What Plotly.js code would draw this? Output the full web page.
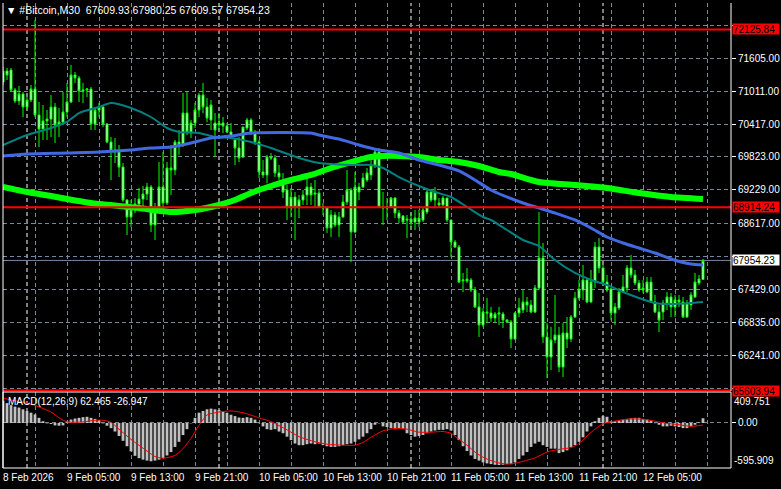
<!DOCTYPE html>
<html><head><meta charset="utf-8">
<script src="https://cdn.plot.ly/plotly-3.0.1.min.js"></script>
<style>html,body{margin:0;padding:0;background:#000;}#chart{width:781px;height:489px;}</style>
</head><body><div id="chart"></div>
<script>
// ---- OHLC (M30 bars, 8 Feb 2026 21:00 .. 12 Feb 2026 12:30) ----
const open = [71177,71376,71394,71033,70834,70960,70726,70852,71051,70581,
70328,70473,70509,70726,70401,70455,70635,70816,71304,71249,
71015,71033,71051,70419,70671,70726,70419,70094,69949,69913,
69642,69046,68739,68865,68974,69064,69154,69281,68595,68920,
69281,68992,69624,69588,70094,70039,70617,70274,70437,70671,
70942,70726,70491,70437,70401,70437,70382,70274,70130,69985,
69823,70346,70491,70256,70094,69552,69498,69823,69805,69534,
69371,69227,68920,69100,68920,69046,69136,69281,69173,69173,
68920,68902,68540,68775,68595,68739,69010,69227,68468,69281,
69281,69407,69498,69678,69913,68920,68902,68920,69082,68811,
68757,68703,68649,68649,68649,68685,68829,69191,69046,68992,
68956,69082,68685,68288,68197,67583,67583,67601,67421,67114,
66789,67023,67005,66915,66987,66987,66879,66843,66536,67005,
67059,67204,67150,67023,67457,67999,66572,66211,66518,66608,
66030,66644,66536,66933,67276,67421,67601,67204,67565,68197,
67818,67565,67439,67005,67096,67384,67457,67818,67692,67547,
67421,67384,67565,67204,67023,67023,67186,67294,67114,67240,
67204,66933,67150,67294,67547,67609.93];
const high = [71448,71430,71430,71069,71105,70997,70906,71123,72297,70816,
70762,70671,70942,70798,70708,70997,71159,71484,71358,71285,
71159,71069,71087,70726,70798,70762,70437,70184,70166,70039,
69714,69064,69046,69082,69263,69299,69353,69317,68992,69732,
69913,69732,70039,70130,70310,70978,70997,70491,70798,70978,
71159,70888,70852,70617,70617,70545,70437,70437,70166,70184,
70364,70527,70527,70310,70130,69768,69859,69895,69859,69678,
69534,69317,69263,69191,69136,69227,69443,69353,69407,69227,
68992,68902,68865,68829,68829,69136,69588,69263,69552,69353,
69534,69624,69859,69949,69985,69191,69082,69100,69100,68865,
68775,68775,68811,68865,68865,68920,69263,69227,69281,69082,
69118,69082,68685,68324,68233,67728,67818,67637,67475,67366,
67096,67276,67114,67023,67114,67023,66897,66879,67023,67276,
67421,67294,67240,67511,68829,68270,66825,66753,67330,66753,
66825,66933,66969,67384,67601,67872,67637,67782,68288,68360,
67872,67692,67457,67186,67457,67692,67872,68053,67782,67601,
67601,67655,67655,67330,67150,67240,67384,67366,67330,67330,
67294,67240,67384,67728,67692,67980.25];
const low = [71123,71213,70997,70798,70762,70545,70671,70816,70545,70003,
70130,70130,70184,70075,70184,70401,70545,70798,71159,70816,
70798,70906,70310,70310,70545,70364,70075,69407,69714,69461,
69010,68414,68558,68811,68865,68865,69046,68468,68324,68865,
68902,68956,69136,69498,69859,70003,70220,70166,70346,70545,
70617,70455,70310,69823,70310,70256,70256,70166,69678,69732,
69805,70310,70220,70039,69443,69443,69353,69768,69461,69407,
69082,68685,68739,68324,68721,68956,68956,68956,68920,68902,
68775,68450,68378,68558,68378,68721,68956,67926,68450,69046,
69263,69371,69407,69624,68902,68595,68685,68902,68721,68631,
68613,68360,68558,68504,68558,68649,68793,69010,68920,68920,
68938,68649,68017,68179,67547,67384,67547,67384,67096,66572,
66753,66825,66843,66825,66789,66735,66825,66373,66518,66933,
67005,67023,67005,67005,67421,66463,65832,65976,66463,65940,
65850,66373,66481,66915,67240,67240,67186,67186,67457,67728,
67547,67384,66879,66789,67059,67366,67384,67637,67511,67384,
67366,67366,67186,67005,66662,66879,67059,66933,66933,67114,
66915,66915,67059,67276,67511,67609.57];
const close = [71376,71304,71033,70834,70960,70726,70852,71051,70581,70328,
70473,70509,70726,70401,70455,70635,70816,71304,71249,71015,
71033,71051,70419,70671,70726,70419,70094,69949,69913,69642,
69046,68739,68865,68974,69064,69154,69281,68595,68920,69281,
68992,69624,69588,70094,70039,70617,70274,70437,70671,70942,
70726,70527,70762,70310,70437,70382,70274,70184,69985,69805,
70364,70491,70256,70094,69552,69498,69823,69805,69534,69461,
69191,68920,69100,68920,69046,69136,69281,69136,69154,68920,
68902,68540,68775,68595,68739,69010,69227,68468,69281,69191,
69443,69534,69678,69913,68920,68902,68920,69082,68811,68721,
68649,68685,68703,68721,68721,68865,69191,69046,69191,68956,
69082,68685,68288,68197,67565,67601,67619,67421,67114,66789,
67023,67005,66915,66987,67005,66879,66843,66536,67005,67096,
67204,67150,67023,67457,67999,66572,66211,66518,66608,66030,
66644,66536,66933,67276,67439,67601,67204,67565,68197,67818,
67565,67421,67005,67114,67384,67475,67818,67692,67547,67421,
67457,67565,67204,67023,66879,67186,67294,67114,67240,67204,
66933,67186,67330,67565,67619,67954.23];

// ---- Moving averages (bar index, value) ----
const tealBars = [0,6,12,16,19,24,27,32,37,41,44,49,53,57,62,67,74,79,87,92,95,99,104,108,112,116,120,122,126,130,134,138,143,147,151,155,159,163,167,172,175];
const tealVals = [70039,70220,70346,70455,70617,70726,70798,70708,70545,70346,70274,70256,70184,70166,70094,69985,69805,69714,69678,69678,69624,69461,69299,69191,69100,68920,68739,68685,68504,68324,68215,67962,67728,67601,67511,67385,67276,67186,67168,67186,67204];
const blueBars = [0,6,16,24,32,37,42,47,52,57,62,77,79,84,89,94,99,104,109,114,118,122,130,134,138,143,147,151,155,159,163,167,172,175];
const blueVals = [69841,69877,69895,69913,69949,69985,70003,70075,70166,70202,70256,70256,70220,70148,70039,69949,69895,69768,69678,69570,69407,69227,68992,68902,68811,68685,68540,68378,68270,68179,68089,67981,67890,67872];
const greenBars = [0,6,12,16,22,29,34,42,48,54,58,62,67,72,77,82,87,92,95,99,104,109,114,119,124,127,134,143,151,159,167,175];
const greenVals = [69281,69190,69118,69064,68992,68938,68902,68829,68865,68956,69046,69173,69299,69407,69498,69624,69732,69823,69841,69841,69823,69768,69732,69660,69552,69516,69371,69317,69263,69172,69100,69064];

// ---- MACD(12,26,9) ----
const macdHist = [294,263,236,217,204,181,159,136,113,68,
23,-5,-14,-32,-36,-32,23,45,59,68,
77,82,68,54,36,-5,-36,-68,-113,-172,
-236,-308,-376,-435,-466,-485,-498,-507,-498,-485,
-462,-430,-385,-317,-249,-159,-82,-5,68,136,
159,181,190,181,172,154,136,109,91,72,
68,77,68,45,-3,-45,-82,-91,-82,-113,
-136,-181,-227,-272,-294,-294,-281,-272,-281,-272,
-294,-308,-317,-317,-308,-294,-281,-272,-249,-217,
-181,-136,-82,-23,-5,-45,-54,-68,-82,-68,
-82,-136,-159,-181,-172,-159,-136,-113,-100,-91,
-91,-82,-100,-159,-227,-308,-371,-430,-476,-498,
-521,-535,-544,-553,-557,-553,-544,-544,-521,-476,
-430,-385,-317,-272,-249,-294,-317,-340,-340,-399,
-385,-362,-317,-294,-249,-190,-113,-45,23,68,
91,82,23,23,36,45,54,63,68,68,
54,45,36,-3,-23,-45,-45,-36,-45,-54,
-68,-68,-45,-23,5,62.465];
const signalBars = [0,2,6,9,12,14,16,20,23,25,27,29,32,36,38,40,43,45,47,49,51,54,57,60,64,67,71,74,78,81,85,88,90,92,95,98,101,104,107,110,112,114,116,118,120,122,124,126,128,130,133,136,139,142,144,146,148,150,152,154,157,160,163,166,169,172,175];
const signalVals = [331,304,263,213,145,70,14,14,36,36,9,-82,-217,-371,-444,-467,-430,-340,-204,-30,105,145,159,136,68,18,-91,-181,-249,-281,-294,-294,-258,-190,-104,-72,-82,-122,-122,-113,-136,-217,-294,-385,-453,-498,-530,-544,-535,-507,-462,-385,-349,-326,-272,-172,-82,-9,14,36,54,50,23,-5,-23,-45,-26.947];
const macdMax = 409.751, macdMin = -595.909;

// ---- Levels, ticks, labels ----
const levelPrices = [72125.84, 68914.24, 65603.94];
const lastPrice = 67954.23;
const priceTicks = [72199, 71605, 71011, 70417, 69823, 69229, 68617, 68023, 67429, 66835, 66241, 65647];
const hiddenTicks = [72199, 68023, 65647]; // grid levels whose labels sit under the price boxes
const timeLabels = ['8 Feb 2026','9 Feb 05:00','9 Feb 13:00','9 Feb 21:00','10 Feb 05:00','10 Feb 13:00','10 Feb 21:00','11 Feb 05:00','11 Feb 13:00','11 Feb 21:00','12 Feb 05:00'];
const timeLabelBars = [0,16,32,48,64,80,96,112,128,144,160];
const daySepBars = [6,54,102,150];

const bars = open.map((_, i) => i);
const FONT = 'Liberation Sans, Arial, sans-serif';
const mainDom = [0.1656, 1];
const macdDom = [0, 0.1634];
const gridCol = '#778899';
const dash = '4px,3px';

const traces = [
  {type:'scatter', mode:'lines', x:greenBars, y:greenVals, line:{color:'#00ff00', width:6, shape:'spline', smoothing:0.6}, hoverinfo:'skip'},
  {type:'scatter', mode:'lines', x:tealBars, y:tealVals, line:{color:'#008080', width:2, shape:'spline', smoothing:0.6}, hoverinfo:'skip'},
  {type:'scatter', mode:'lines', x:blueBars, y:blueVals, line:{color:'#4169e1', width:3, shape:'spline', smoothing:0.6}, hoverinfo:'skip'},
  {type:'candlestick', x:bars, open:open, high:high, low:low, close:close,
   increasing:{line:{color:'#00ff00', width:1}, fillcolor:'#ffffff'},
   decreasing:{line:{color:'#00ff00', width:1}, fillcolor:'#ffffff'},
   whiskerwidth:0, hoverinfo:'skip'},
  {type:'bar', x:bars, y:macdHist, xaxis:'x', yaxis:'y2', marker:{color:'#c0c0c0', line:{width:0}}, hoverinfo:'skip'},
  {type:'scatter', mode:'lines', x:signalBars, y:signalVals, xaxis:'x', yaxis:'y2', line:{color:'#ff0000', width:1, shape:'spline', smoothing:0.6}, hoverinfo:'skip'}
];

const shapes = [];
daySepBars.forEach(b => {
  shapes.push({type:'line', xref:'x', yref:'paper', x0:b, x1:b, y0:mainDom[0], y1:mainDom[1], line:{color:'#ffffff', width:1, dash:dash}, layer:'below'});
  shapes.push({type:'line', xref:'x', yref:'paper', x0:b, x1:b, y0:macdDom[0], y1:macdDom[1], line:{color:'#ffffff', width:1, dash:dash}, layer:'below'});
});
shapes.push({type:'line', xref:'paper', yref:'y', x0:0, x1:1, y0:lastPrice, y1:lastPrice, line:{color:gridCol, width:1}, layer:'below'});
levelPrices.forEach(p => shapes.push({type:'line', xref:'paper', yref:'y', x0:0, x1:1, y0:p, y1:p, line:{color:'#ff0000', width:2}, layer:'above'}));
// frames
shapes.push({type:'line', xref:'paper', yref:'paper', x0:0, x1:0, y0:0, y1:1, line:{color:'#ffffff', width:1}, layer:'above'});
shapes.push({type:'line', xref:'paper', yref:'paper', x0:1, x1:1, y0:mainDom[0], y1:1, line:{color:'#ffffff', width:1}, layer:'above'});
shapes.push({type:'rect', xref:'paper', yref:'paper', x0:0, x1:1, y0:macdDom[0], y1:macdDom[1], line:{color:'#ffffff', width:1}, layer:'above'});

const annotations = [];
levelPrices.forEach(p => annotations.push({xref:'paper', x:1, xanchor:'left', xshift:1, yref:'y', y:p, yanchor:'middle', text:p.toFixed(2), showarrow:false, bgcolor:'#ff0000', font:{family:FONT, size:10, color:'#000000'}, borderpad:0, width:46, height:10, align:'left'}));
annotations.push({xref:'paper', x:1, xanchor:'left', xshift:1, yref:'y', y:lastPrice, yanchor:'middle', text:lastPrice.toFixed(2), showarrow:false, bgcolor:'#ffffff', font:{family:FONT, size:10, color:'#000000'}, borderpad:0, width:46, height:10, align:'left'});
annotations.push({xref:'paper', x:1, xanchor:'left', xshift:1, yref:'y2', y:macdMax, yanchor:'top', yshift:-2, text:macdMax.toFixed(3), showarrow:false, font:{family:FONT, size:10, color:'#ffffff'}});
annotations.push({xref:'paper', x:1, xanchor:'left', xshift:1, yref:'y2', y:macdMin, yanchor:'bottom', yshift:0, text:macdMin.toFixed(3), showarrow:false, font:{family:FONT, size:10, color:'#ffffff'}});
annotations.push({xref:'paper', x:0, xanchor:'left', xshift:3, yref:'y2', y:macdMax, yanchor:'top', yshift:-2, text:'MACD(12,26,9) ' + macdHist[macdHist.length-1].toFixed(3) + ' ' + signalVals[signalVals.length-1].toFixed(3), showarrow:false, font:{family:FONT, size:10, color:'#ffffff'}});
timeLabels.forEach((t, i) => annotations.push({xref:'x', x:timeLabelBars[i], xanchor:'left', xshift:-2, yref:'paper', y:0, yanchor:'top', yshift:-2, text:t, showarrow:false, font:{family:FONT, size:10, color:'#ffffff'}}));

const layout = {
  width:781, height:489,
  margin:{l:3, r:50, t:3, b:21},
  paper_bgcolor:'#000000', plot_bgcolor:'#000000',
  showlegend:false,
  font:{family:FONT, size:10, color:'#ffffff'},
  title:{text:'\u25BC #Bitcoin,M30\u00a0\u00a0' + [open[open.length-1], high[high.length-1], low[low.length-1], close[close.length-1]].map(v => v.toFixed(2)).join(' '),
         x:6/781, xanchor:'left', xref:'container', y:1-10.5/489, yanchor:'middle', yref:'container', font:{family:FONT, size:10.5, color:'#ffffff'}},
  bargap:0.3,
  xaxis:{domain:[0,1], range:[0,182], anchor:'y2', showticklabels:false, ticks:'', tickmode:'linear', tick0:0, dtick:8,
         showgrid:true, gridcolor:gridCol, griddash:dash, gridwidth:1, zeroline:false, showline:false, rangeslider:{visible:false}, fixedrange:true},
  yaxis:{domain:mainDom, range:[65596.5, 72604], side:'right', anchor:'x', tickmode:'array', tickvals:priceTicks,
         ticktext:priceTicks.map(v => hiddenTicks.includes(v) ? '' : v.toFixed(2)),
         ticks:'outside', ticklen:4, tickcolor:'#ffffff', tickfont:{family:FONT, size:10, color:'#ffffff'},
         showgrid:true, gridcolor:gridCol, griddash:dash, gridwidth:1, zeroline:false, showline:false, fixedrange:true},
  yaxis2:{domain:macdDom, range:[macdMin, macdMax], side:'right', anchor:'x', tickmode:'array', tickvals:[0], ticktext:['0.00'],
         ticks:'outside', ticklen:4, tickcolor:'#ffffff', tickfont:{family:FONT, size:10, color:'#ffffff'},
         showgrid:true, gridcolor:gridCol, griddash:dash, gridwidth:1, zeroline:false, showline:false, fixedrange:true},
  shapes:shapes,
  annotations:annotations
};

Plotly.newPlot('chart', traces, layout, {staticPlot:true, displayModeBar:false});
</script>
</body></html>
